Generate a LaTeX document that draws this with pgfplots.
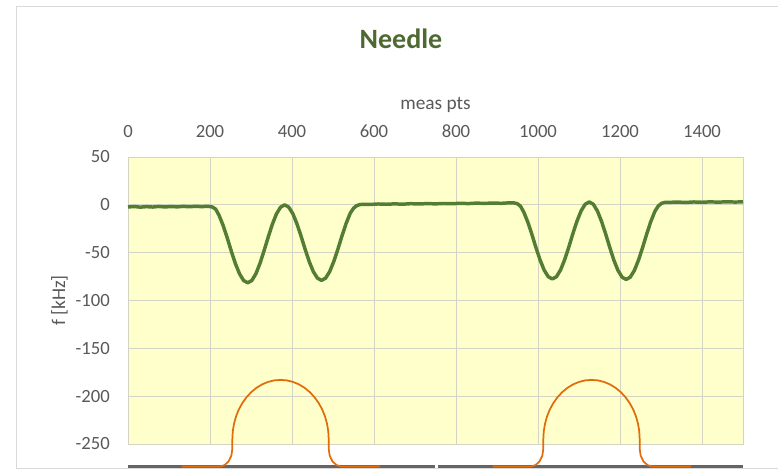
\documentclass[border=0pt]{standalone}
\usepackage{pgfplots}
\pgfplotsset{compat=1.18}
\usepackage{fontspec}
\setmainfont{Carlito}
\definecolor{plotyellow}{RGB}{255,255,204}
\definecolor{gridc}{RGB}{212,212,196}
\definecolor{labelgrey}{RGB}{89,89,89}
\definecolor{needlegreen}{RGB}{84,125,52}
\definecolor{titlegreen}{RGB}{78,105,50}
\definecolor{needleorange}{RGB}{226,107,10}
\definecolor{basegrey}{RGB}{100,100,100}
\definecolor{framegrey}{RGB}{217,217,217}
\begin{document}
\begin{tikzpicture}
\path[use as bounding box] (0,0) rectangle (583.5pt,351.75pt);
\draw[framegrey, line width=0.75pt] (583.5pt,346.75pt) -- (12pt,346.75pt) -- (12pt,0.6pt) -- (583.5pt,0.6pt);
\node[anchor=base, text=titlegreen, font=\fontsize{21}{24}\selectfont\bfseries] at (300.75pt,315.5pt) {Needle};
\begin{axis}[
  at={(96pt,18.75pt)}, anchor=south west,
  scale only axis, width=461.25pt, height=215.25pt,
  xmin=0, xmax=1500, ymin=-250, ymax=50,
  xtick={0,200,...,1400}, ytick={-250,-200,...,50},
  xticklabel pos=upper,
  major tick length=0pt,
  grid=major,
  grid style={gridc, line width=0.6pt},
  axis line style={gridc, line width=0.6pt},
  axis background/.style={fill=plotyellow},
  clip=false,
  /pgf/number format/assume math mode=true,
  /pgf/number format/1000 sep={},
  ticklabel style={text=labelgrey, font=\fontsize{14}{16}\selectfont},
  xticklabel style={anchor=base, inner sep=0pt, yshift=15pt},
  yticklabel style={anchor=east, inner sep=0pt, xshift=-13.5pt},
  xlabel={meas pts},
  ylabel={f [kHz]},
  xlabel style={at={(axis description cs:0.5,1.1638)}, anchor=base, inner sep=0pt, text=labelgrey, font=\fontsize{14.5}{16}\selectfont},
  ylabel style={at={(axis description cs:-0.1024,0.5)}, anchor=base, rotate=0, inner sep=0pt, text=labelgrey, font=\fontsize{14.5}{16}\selectfont},
]
% base lines of the needle sketch
\addplot[basegrey, line width=1.6pt] coordinates {(0,-273.5) (749,-273.5)};
\addplot[basegrey, line width=1.6pt] coordinates {(757,-273.5) (1500,-273.5)};
% needle profile 1
\addplot[needleorange, line width=1.3pt, line join=round] coordinates {
(131,-273.5) (223.5,-273.5) (235.4,-272.1) (245.4,-268.1) (252.1,-262.1) (254.5,-255) (254.5,-245) (255.5,-236.9) (258.5,-229.0) (263.4,-221.3) (270.2,-214.0) (278.8,-207.3) (288.9,-201.2) (300.5,-195.8) (313.25,-191.3) (327.0,-187.7) (341.6,-185.1) (356.7,-183.5) (372,-183) (387.3,-183.5) (402.4,-185.1) (417.0,-187.7) (430.75,-191.3) (443.5,-195.8) (455.1,-201.2) (465.2,-207.3) (473.8,-214.0) (480.6,-221.3) (485.5,-229.0) (488.5,-236.9) (489.5,-245) (489.5,-255) (491.9,-262.1) (498.6,-268.1) (508.6,-272.1) (520.5,-273.5) (615,-273.5)
};
% needle profile 2
\addplot[needleorange, line width=1.3pt, line join=round] coordinates {
(889.5,-273.5) (982,-273.5) (993.9,-272.1) (1003.9,-268.1) (1010.6,-262.1) (1013,-255) (1013,-245) (1014,-236.9) (1017,-229.0) (1021.9,-221.3) (1028.7,-214.0) (1037.3,-207.3) (1047.4,-201.2) (1059,-195.8) (1071.75,-191.3) (1085.5,-187.7) (1100.1,-185.1) (1115.2,-183.5) (1130.5,-183) (1145.8,-183.5) (1160.9,-185.1) (1175.5,-187.7) (1189.25,-191.3) (1202,-195.8) (1213.6,-201.2) (1223.7,-207.3) (1232.3,-214.0) (1239.1,-221.3) (1244,-229.0) (1247,-236.9) (1248,-245) (1248,-255) (1250.4,-262.1) (1257.1,-268.1) (1267.1,-272.1) (1279,-273.5) (1373.5,-273.5)
};
% measured frequency shift
\addplot[needlegreen, line width=2.6pt, line join=round] coordinates {
(0,-2.2) (15,-1.8) (30,-2.4) (45,-1.9) (60,-2.3) (75,-1.7) (90,-2.2) (105,-1.8) (120,-2.1) (135,-1.6) (150,-2.0) (165,-1.5) (180,-1.9) (190,-1.6)
(198,-1.7) (206,-2.3) (214,-4.6) (222,-10.9) (232,-21.5) (242,-34.5) (252,-48.5) (262,-61.5) (272,-72.1) (282,-79.1) (292,-81.5) (302,-79.1) (312,-72.0) (322,-61.1) (332,-47.8) (342,-33.7) (352,-20.4) (362,-9.5) (372,-2.5) (382,0) (392,-2.4) (402,-9.2) (412,-19.8) (422,-32.6) (432,-46.4) (442,-59.3) (452,-69.8) (462,-76.6) (472,-79) (482,-76.6) (492,-69.7) (502,-59.1) (512,-46.2) (522,-32.3) (532,-19.4) (542,-8.8) (550,-3.6) (558,-0.8) (566,0.3)
(575,0.6) (590,0.4) (610,0.9) (630,0.6) (650,1.0) (670,0.7) (690,1.2) (710,0.9) (730,1.3) (750,1.0) (770,1.4) (790,1.2) (810,1.6) (830,1.3) (850,1.8) (870,1.5) (890,1.9) (910,1.6) (930,2.1)
(941,2.0) (949,1.3) (957,-1.2) (965,-7.3) (975,-17.9) (985,-30.8) (995,-44.7) (1005,-57.6) (1015,-68.2) (1025,-75.1) (1035,-77.5) (1045,-75.1) (1055,-68.1) (1065,-57.4) (1075,-44.3) (1085,-30.2) (1095,-17.1) (1105,-6.4) (1115,0.6) (1125,3) (1135,0.6) (1145,-6.5) (1155,-17.3) (1165,-30.4) (1175,-44.5) (1185,-57.8) (1195,-68.5) (1205,-75.6) (1215,-78) (1225,-75.6) (1235,-68.6) (1245,-57.9) (1255,-44.8) (1265,-30.7) (1275,-17.6) (1285,-6.9) (1293,-1.4) (1301,1.5) (1309,2.5)
(1320,2.6) (1340,2.9) (1360,2.5) (1380,3.0) (1400,2.7) (1420,3.1) (1440,2.8) (1460,3.2) (1480,2.9) (1500,3.1)
};
\end{axis}
\end{tikzpicture}
\end{document}
